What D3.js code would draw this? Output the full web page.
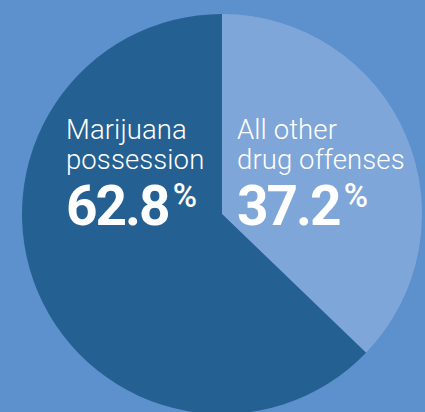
<!DOCTYPE html>
<html><head><meta charset="utf-8">
<script src="https://cdn.jsdelivr.net/npm/d3@7"></script>
<style>html,body{margin:0;padding:0;background:#5c91cd;overflow:hidden}</style>
</head><body>
<script>
const categories = ["All other drug offenses", "Marijuana possession"];
const labelLines = [["All other", "drug offenses"], ["Marijuana", "possession"]];
const values = [37.2, 62.8];
const colors = ["#7fa6d8", "#246192"];

const W = 425, H = 412, cx = 222, cy = 214, R = 200;
const svg = d3.select("body").append("svg").attr("width", W).attr("height", H);
svg.append("rect").attr("width", W).attr("height", H).attr("fill", "#5c91cd");
const g = svg.append("g").attr("transform", `translate(${cx},${cy})`);
const pie = d3.pie().sort(null).value(d => d)(values);
const arc = d3.arc().innerRadius(0).outerRadius(R);
g.selectAll("path").data(pie).join("path").attr("d", arc).attr("fill", (d, i) => colors[i]);

const labelX = [15, -156];
pie.forEach((d, i) => {
  const t = g.append("text").attr("fill", "#fff").attr("font-family", "Roboto, sans-serif");
  labelLines[i].forEach((ln, j) => {
    t.append("tspan").attr("x", labelX[i]).attr("y", -75 + j * 30)
      .attr("font-size", 27.5).attr("font-weight", 300).attr("letter-spacing", 0.1).text(ln);
  });
  const p = g.append("text").attr("fill", "#fff").attr("font-family", "Roboto, sans-serif")
    .attr("x", labelX[i]).attr("y", 11);
  p.append("tspan").attr("font-size", 55).attr("font-weight", 700).attr("letter-spacing", -2).text(values[i].toFixed(1));
  p.append("tspan").attr("font-size", 33).attr("font-weight", 500).attr("dx", 4).attr("dy", -18).text("%");
});
</script>
</body></html>
